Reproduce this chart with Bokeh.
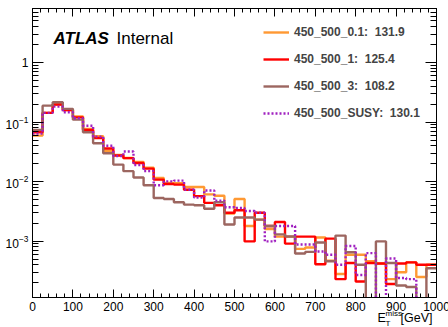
import numpy as np
from bokeh.plotting import figure
from bokeh.layouts import column
from bokeh.models import (Range1d, LinearAxis, LogAxis, Legend, LegendItem, FixedTicker)
from bokeh.core.properties import value
from bokeh.embed import file_html
from bokeh.resources import INLINE

# ---------------- data ----------------
bin_width = 25
bin_edges = list(range(0, 1001, bin_width))

labels = ["450_500_0.1", "450_500_1", "450_500_3", "450_500_SUSY"]
means = ["131.9", "125.4", "108.2", "130.1"]

h_0p1 = [0.0593, 0.143, 0.197, 0.160, 0.125, 0.077, 0.058, 0.033, 0.028, 0.025,
         0.0215, 0.0172, 0.0115, 0.0095, 0.0094, 0.0081, 0.0081, 0.0061, 0.0058, 0.0029,
         0.0051, 0.0018, 0.0023, 0.0016, 0.00119, 0.00119, 0.00074, 0.00078, 0.00115, 0.00047,
         0.00028, 0.00059, 0.00059, 0.00046, 0.00042, 0.00023, 0.00030, 0.00044, 0.00025, 0.00040]
h_1 = [0.0674, 0.143, 0.197, 0.160, 0.120, 0.074, 0.054, 0.036, 0.0274, 0.0248,
       0.0205, 0.0165, 0.0108, 0.0091, 0.0089, 0.0073, 0.0057, 0.0044, 0.0040, 0.0030,
       0.0033, 0.00099, 0.0030, 0.0018, 0.0021, 0.00091, 0.00119, 0.00119, 0.00041, 0.00110,
       0.00023, 0.00043, 0.00021, 0.00043, 0.00042, 0.00019, 0.00042, 0.00044, 0.00040, 0.00040]
h_3 = [0.074, 0.189, 0.215, 0.167, 0.110, 0.0674, 0.044, 0.030, 0.0193, 0.0150,
       0.0117, 0.0087, 0.0053, 0.0051, 0.0045, 0.0041, 0.0040, 0.0035, 0.0045, 0.0019,
       0.0025, 0.0025, 0.0023, 0.0018, 0.0013, 0.0012, 0.00062, 0.00066, 0.00095, 0.00046,
       0.00124, 0.00065, 0.00040, 0.0, 0.00099, 0.00043, 0.00018, 0.00017, 0.0, 0.00035]
h_susy = [0.064, 0.143, 0.182, 0.146, 0.116, 0.087, 0.057, 0.040, 0.027, 0.032,
          0.019, 0.015, 0.0087, 0.0101, 0.0104, 0.0073, 0.0054, 0.0071, 0.0048, 0.0037,
          0.0036, 0.0032, 0.0030, 0.00099, 0.0018, 0.0018, 0.00088, 0.00088, 0.00067, 0.00059,
          0.00040, 0.00083, 0.00027, 0.00063, 0.0, 0.00051, 0.00024, 0.00023, 0.0, 0.0]

series = [h_0p1, h_1, h_3, h_susy]
colors = ["#ff9933", "#ff0000", "#9c6660", "#a020c0"]
dashes = ["solid", "solid", "solid", "2 2"]

x_major = list(range(0, 1001, 100))
x_major_text = [str(v) for v in x_major]
y_major = [1e-3, 1e-2, 1e-1, 1.0]

FONT = "Liberation Sans"

# ---------------- geometry ----------------
W = 448
B_LEFT, B_RIGHT, B_TOP = 32, 12, 8
MAIN_H = 299          # frame bottom at 297
SUB_H = 327 - MAIN_H
X0, X1 = 0, 1000
Y0, Y1 = 1.13e-4, 8.1
frame_w = W - B_LEFT - B_RIGHT
frame_h = MAIN_H - 2 - B_TOP
px_per_unit = frame_w / (X1 - X0)
BASE_FIX = 0.38       # glyph text sits this many em lower than the requested baseline

def to_x(px):
    return X0 + (px - B_LEFT) / px_per_unit

def to_logy(py):
    ly0, ly1 = np.log10(Y0), np.log10(Y1)
    return 10 ** (ly1 - (py - B_TOP) / frame_h * (ly1 - ly0))

# ---------------- main figure ----------------
p = figure(width=W, height=MAIN_H, x_range=Range1d(X0, X1), y_range=Range1d(Y0, Y1),
           y_axis_type="log", output_backend="svg", toolbar_location=None,
           min_border_left=B_LEFT, min_border_right=B_RIGHT, min_border_top=B_TOP,
           min_border_bottom=2, frame_align=False)
p.xgrid.visible = False
p.ygrid.visible = False
p.outline_line_color = "black"
p.background_fill_color = "white"
p.border_fill_color = "white"

x_minor = [v for v in range(0, 1001, 20) if v % 100 != 0]
y_minor = [m * 10.0 ** e for e in range(-4, 1) for m in range(2, 10)]
xt = FixedTicker(ticks=x_major, minor_ticks=x_minor)
yt = FixedTicker(ticks=y_major, minor_ticks=y_minor)

def style_common(ax):
    ax.axis_line_color = "black"
    ax.major_tick_line_color = "black"
    ax.minor_tick_line_color = "black"
    ax.major_tick_out = 0
    ax.minor_tick_out = 0

def hide_labels(ax):
    ax.major_label_text_font_size = "1px"
    ax.major_label_text_alpha = 0
    ax.major_label_standoff = 0

def style_x(ax):
    style_common(ax)
    ax.ticker = xt
    ax.major_tick_in = 8
    ax.minor_tick_in = 4
    hide_labels(ax)

def style_y(ax, show):
    style_common(ax)
    ax.ticker = yt
    ax.major_tick_in = 11
    ax.minor_tick_in = 6
    if show:
        ax.major_label_text_font = FONT
        ax.major_label_text_font_size = "12px"
        ax.major_label_text_color = "black"
        ax.major_label_standoff = 4
        ax.major_label_overrides = {1: "1"}
    else:
        hide_labels(ax)

style_x(p.xaxis[0])
style_y(p.yaxis[0], True)
top = LinearAxis()
style_x(top)
p.add_layout(top, "above")
right = LogAxis()
style_y(right, False)
p.add_layout(right, "right")

# ---------------- histograms ----------------
renderers = []
for vals, col, dash in zip(series, colors, dashes):
    yv = [v if v > 0 else 1e-9 for v in vals]
    yv = yv + [yv[-1]]
    r = p.step(x=bin_edges, y=yv, mode="after", line_color=col, line_width=2.4,
               line_dash=dash)
    renderers.append(r)

# ---------------- legend ----------------
items = [LegendItem(label=f"{lab}:  {m}", renderers=[r])
         for lab, m, r in zip(labels, means, renderers)]
legend = Legend(items=items, location=(231, 176), orientation="vertical",
                glyph_width=26, glyph_height=16, label_height=16, label_standoff=5,
                spacing=11, padding=0, margin=0, border_line_alpha=0,
                background_fill_alpha=0, label_text_font=FONT,
                label_text_font_style="bold", label_text_font_size="12px")
p.add_layout(legend, "center")

# ATLAS Internal
atlas_y = to_logy(44 - BASE_FIX * 17)
p.text(x=[to_x(53)], y=[atlas_y], text=["ATLAS"], text_font=value(FONT),
       text_font_style="bold italic", text_font_size="17px", text_baseline="alphabetic",
       text_color="black")
p.text(x=[to_x(116)], y=[atlas_y], text=["Internal"], text_font=value(FONT),
       text_font_size="17px", text_baseline="alphabetic", text_color="black")

# ---------------- strip below: x tick labels and x title ----------------
q = figure(width=W, height=SUB_H,
           x_range=Range1d(to_x(0), to_x(W)),
           y_range=Range1d(327, MAIN_H),   # data y == page pixel row
           output_backend="svg", toolbar_location=None, min_border=0,
           frame_align=False)
q.axis.visible = False
q.grid.visible = False
q.outline_line_color = None
q.background_fill_color = "white"
q.border_fill_color = "white"

q.text(x=x_major, y=[310.5 - BASE_FIX * 12] * len(x_major), text=x_major_text,
       text_align="center", text_baseline="alphabetic", text_font=value(FONT),
       text_font_size="12px", text_color="black")

def xlab(px, py, txt, size):
    q.text(x=[to_x(px)], y=[py - BASE_FIX * size], text=[txt], text_font=value(FONT),
           text_font_size=f"{size}px", text_baseline="alphabetic", text_color="black")

xlab(377, 322.5, "E", 12.5)
xlab(385, 316, "miss", 8)
xlab(385, 326, "T", 8)
xlab(400, 322.5, "[GeV]", 12.5)

layout = column(p, q, spacing=0)
open("out.html", "w").write(file_html(layout, INLINE))
